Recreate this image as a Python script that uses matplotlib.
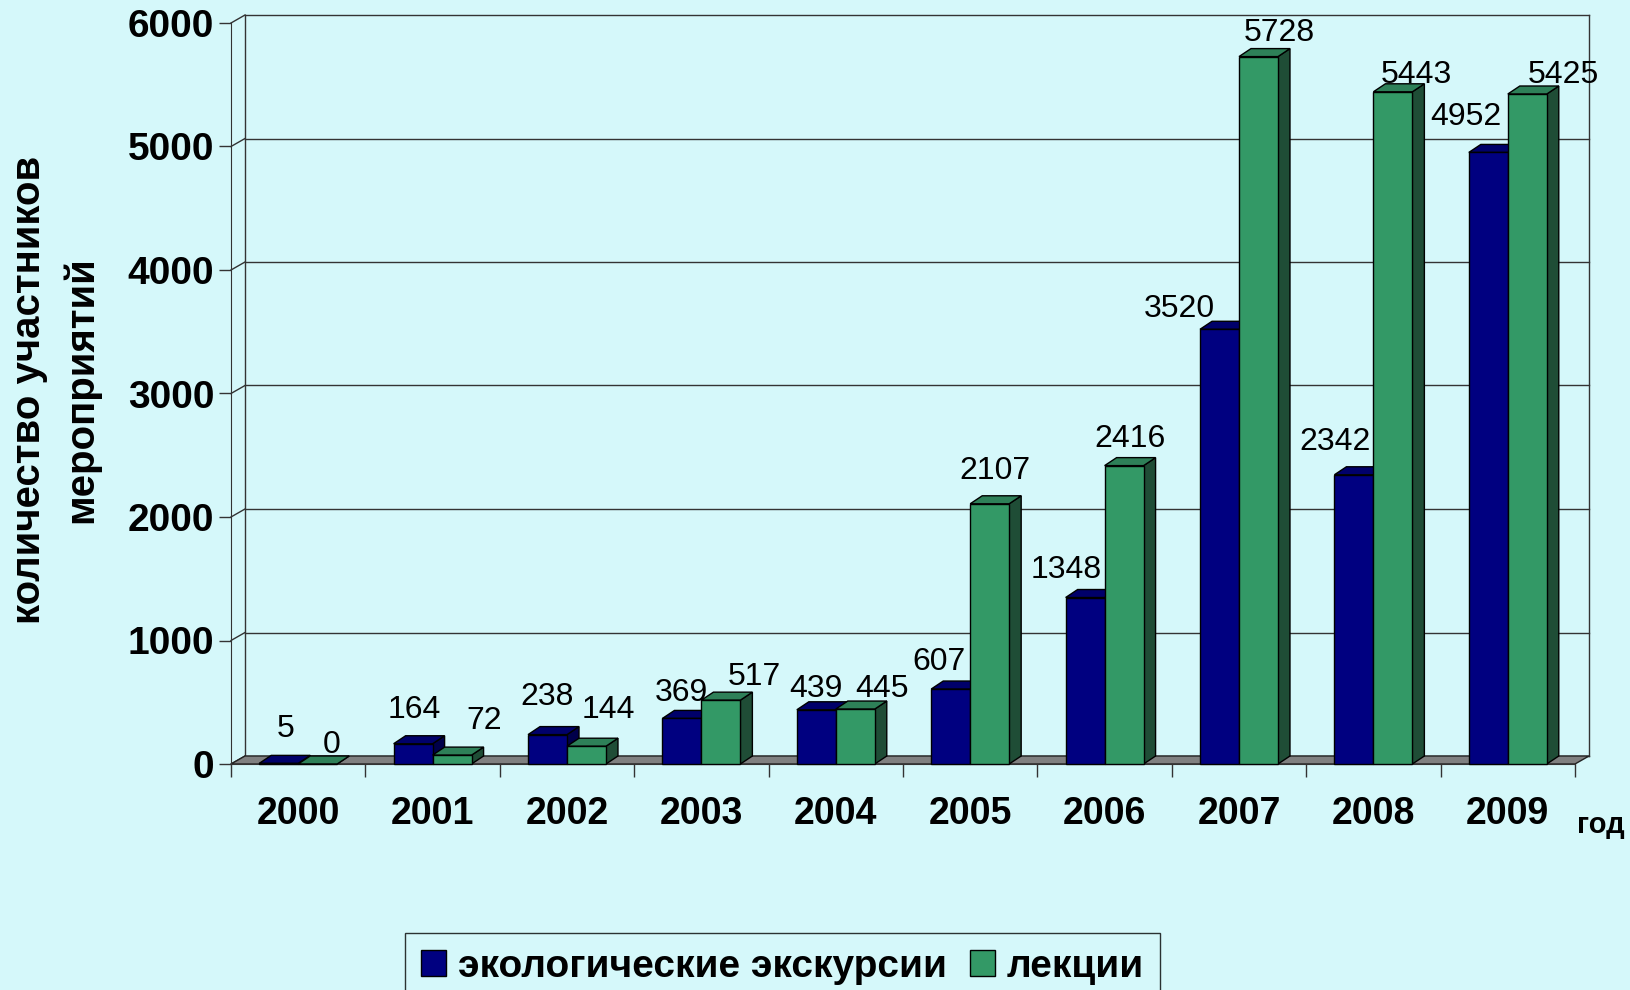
import matplotlib
matplotlib.use('Agg')
import matplotlib.pyplot as plt
from matplotlib.patches import Polygon, Patch
import numpy as np

plt.rcParams['font.family'] = ['Liberation Sans', 'DejaVu Sans']

# данные
years = ['2000', '2001', '2002', '2003', '2004', '2005', '2006', '2007', '2008', '2009']
excursions = [5, 164, 238, 369, 439, 607, 1348, 3520, 2342, 4952]
lectures = [0, 72, 144, 517, 445, 2107, 2416, 5728, 5443, 5425]

# сдвиги подписей значений (пиксели)
exc_nudge = [(7, 34), (1, 34), (0, 38), (-1, 25), (0, 21), (-12, 27), (-19, 28), (-40, 20), (-19, 33), (-22, 35)]
lec_nudge = [(14, 19), (32, 34), (22, 36), (33, 23), (27, 20), (5, 33), (6, 27), (21, 24), (23, 17), (36, 19)]

bg = '#D5F8FA'
blue = ('#000080', '#00006A', '#00004A')     # фронт, верх, бок
green = ('#339966', '#2E8058', '#1F4D36')

fig = plt.figure(figsize=(16.3, 9.9), dpi=100, facecolor=bg)
ax = fig.add_axes([231 / 1630, 226 / 990, 1344 / 1630, 741 / 990])
ax.set_facecolor('none')
ax.set_xlim(0, 10)
ax.set_ylim(0, 6000)

px_x = 10 / 1344.0       # единиц по x на пиксель
px_y = 6000 / 741.0      # единиц по y на пиксель
wdx, wdy = 14 * px_x, 8 * px_y   # глубина стенок
bdx, bdy = 12 * px_x, 8 * px_y   # глубина столбиков
w = 0.29

# задняя стенка и сетка
for v in range(0, 7000, 1000):
    ax.plot([wdx, 10 + wdx], [v + wdy, v + wdy], color='#333333', lw=1, clip_on=False, zorder=1)
    ax.plot([0, wdx], [v, v + wdy], color='#333333', lw=1, clip_on=False, zorder=1)
ax.plot([wdx, wdx], [wdy, 6000 + wdy], color='#333333', lw=1, clip_on=False, zorder=1)
ax.plot([10 + wdx, 10 + wdx], [wdy, 6000 + wdy], color='#333333', lw=1, clip_on=False, zorder=1)

# пол
floor = Polygon([(0, 0), (10, 0), (10 + wdx, wdy), (wdx, wdy)], closed=True,
                facecolor='#808080', edgecolor='#222222', lw=1, clip_on=False, zorder=2)
ax.add_patch(floor)


def bar3d(x0, h, cols):
    front = Polygon([(x0, 0), (x0 + w, 0), (x0 + w, h), (x0, h)], closed=True,
                    facecolor=cols[0], edgecolor='black', lw=1, clip_on=False, zorder=3)
    top = Polygon([(x0, h), (x0 + w, h), (x0 + w + bdx, h + bdy), (x0 + bdx, h + bdy)], closed=True,
                  facecolor=cols[1], edgecolor='black', lw=1, clip_on=False, zorder=3)
    side = Polygon([(x0 + w, 0), (x0 + w + bdx, bdy), (x0 + w + bdx, h + bdy), (x0 + w, h)], closed=True,
                   facecolor=cols[2], edgecolor='black', lw=1, clip_on=False, zorder=3)
    for p in (side, top, front):
        ax.add_patch(p)


for i in range(len(years)):
    c = i + 0.5
    bar3d(c - w, excursions[i], blue)
    bar3d(c, lectures[i], green)
    ax.annotate(str(excursions[i]), (c - w / 2, excursions[i]), xytext=exc_nudge[i],
                textcoords='offset pixels', ha='center', va='center', fontsize=23, zorder=5)
    ax.annotate(str(lectures[i]), (c + w / 2, lectures[i]), xytext=lec_nudge[i],
                textcoords='offset pixels', ha='center', va='center', fontsize=23, zorder=5)

# оси
for s in ('top', 'right'):
    ax.spines[s].set_visible(False)
ax.spines['left'].set_color('#333333')
ax.spines['bottom'].set_color('#333333')
ax.spines['left'].set_zorder(4)
ax.set_yticks(range(0, 7000, 1000))
ax.set_yticklabels([str(v) for v in range(0, 7000, 1000)], fontsize=28, fontweight='bold')
ax.tick_params(axis='y', length=9, width=1, pad=3, color='#333333')
ax.set_xticks(range(0, 11))
ax.set_xticklabels([])
ax.set_xticks(np.arange(10) + 0.5, minor=True)
ax.set_xticklabels(years, minor=True, fontsize=27, fontweight='bold')
ax.tick_params(axis='x', which='major', length=9, width=1, color='#333333')
ax.tick_params(axis='x', which='minor', length=0, pad=23)

fig.text(1601 / 1630, 1 - 825 / 990, 'год', fontsize=21, fontweight='bold', ha='center', va='center')
fig.text(29 / 1630, 1 - 390 / 990, 'количество участников', rotation=90, fontsize=29,
         fontweight='bold', ha='center', va='center')
fig.text(81 / 1630, 1 - 390 / 990, 'мероприятий', rotation=90, fontsize=29,
         fontweight='bold', ha='center', va='center')

handles = [Patch(facecolor=blue[0], edgecolor='black', label='экологические экскурсии'),
           Patch(facecolor=green[0], edgecolor='black', label='лекции')]
leg = fig.legend(handles=handles, loc='upper left', bbox_to_anchor=(405 / 1630, 1 - 933 / 990),
                 ncol=2, frameon=True, fancybox=False, edgecolor='black', facecolor=bg,
                 prop={'size': 28, 'weight': 'bold'}, handlelength=0.65, handleheight=0.65,
                 handletextpad=0.3, columnspacing=0.6, borderpad=0.4, borderaxespad=0)
leg.get_frame().set_linewidth(1)

fig.savefig('out.png', dpi=100, facecolor=bg)
